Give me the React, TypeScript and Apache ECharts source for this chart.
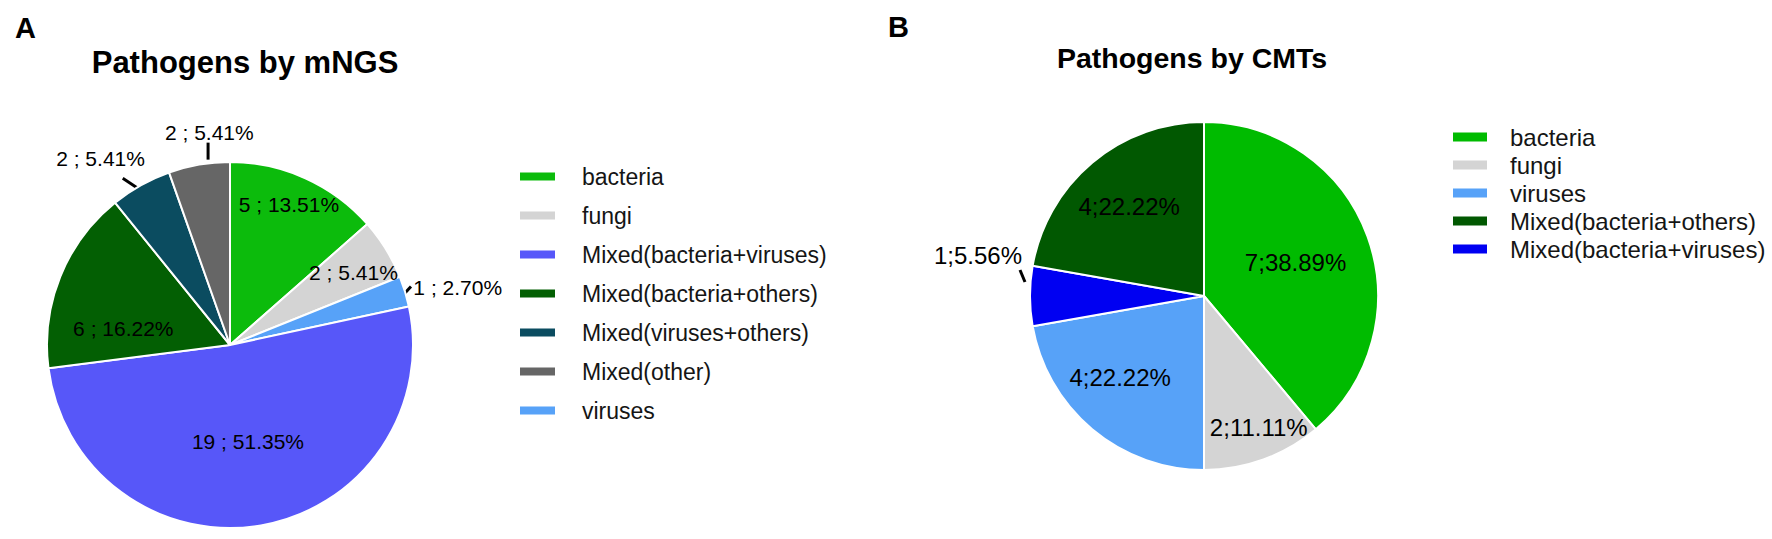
import { useEffect, useRef } from "react";
import * as echarts from "echarts";

// ---------------- data ----------------
const mngsCategories = [
  "bacteria",
  "fungi",
  "viruses",
  "Mixed(bacteria+viruses)",
  "Mixed(bacteria+others)",
  "Mixed(viruses+others)",
  "Mixed(other)",
];
const mngsCounts = [5, 2, 1, 19, 6, 2, 2];
const mngsLegendOrder = [
  "bacteria",
  "fungi",
  "Mixed(bacteria+viruses)",
  "Mixed(bacteria+others)",
  "Mixed(viruses+others)",
  "Mixed(other)",
  "viruses",
];
const mngsOutsideLabels = ["viruses", "Mixed(viruses+others)", "Mixed(other)"];

const cmtCategories = [
  "bacteria",
  "fungi",
  "viruses",
  "Mixed(bacteria+viruses)",
  "Mixed(bacteria+others)",
];
const cmtCounts = [7, 2, 4, 1, 4];
const cmtLegendOrder = [
  "bacteria",
  "fungi",
  "viruses",
  "Mixed(bacteria+others)",
  "Mixed(bacteria+viruses)",
];
const cmtOutsideLabels = ["Mixed(bacteria+viruses)"];

const chartTitles = ["Pathogens by mNGS", "Pathogens by CMTs"];
const panelLetters = ["A", "B"];

// ---------------- styles ----------------
const FONT = "'Liberation Sans', Arial, Helvetica, sans-serif";

const mngsColors: Record<string, string> = {
  bacteria: "#0cbb0c",
  fungi: "#d4d4d4",
  viruses: "#57a2f8",
  "Mixed(bacteria+viruses)": "#5757f9",
  "Mixed(bacteria+others)": "#035f03",
  "Mixed(viruses+others)": "#0b4c60",
  "Mixed(other)": "#666666",
};
const cmtColors: Record<string, string> = {
  bacteria: "#00bb00",
  fungi: "#d4d4d4",
  viruses: "#57a2f8",
  "Mixed(bacteria+viruses)": "#0000f2",
  "Mixed(bacteria+others)": "#015801",
};

// label nudges (px) relative to the library's default label placement
const mngsLabelShift: Record<string, [number, number]> = {
  bacteria: [20, -54],
  fungi: [43, -23],
  viruses: [-10, 0],
  "Mixed(bacteria+viruses)": [2, 3],
  "Mixed(bacteria+others)": [-19, 19],
  "Mixed(viruses+others)": [16, -15],
  "Mixed(other)": [62, -18],
};
const cmtLabelShift: Record<string, [number, number]> = {
  bacteria: [7, -3],
  fungi: [24, 47],
  viruses: [-26, 13],
  "Mixed(bacteria+viruses)": [15, -41],
  "Mixed(bacteria+others)": [-17, -21],
};

// short leader ticks, as offsets from the slice-edge anchor the library computes
const mngsTicks: Record<string, [[number, number], [number, number]]> = {
  viruses: [[-6, 8], [6, -5]],
  "Mixed(viruses+others)": [[-3, 3], [-18, -7]],
  "Mixed(other)": [[9, -5], [9, -22]],
};
const cmtTicks: Record<string, [[number, number], [number, number]]> = {
  "Mixed(bacteria+viruses)": [[-5, -14], [-10, -26]],
};

function buildPie(
  cats: string[],
  counts: number[],
  colors: Record<string, string>,
  outside: string[],
  shifts: Record<string, [number, number]>,
  ticks: Record<string, [[number, number], [number, number]]>,
  center: [number, number],
  radius: number,
  fontSize: number,
  sep: string,
  lineLen: number
) {
  const total = counts.reduce((a, b) => a + b, 0);
  return {
    type: "pie",
    center,
    radius,
    startAngle: 90,
    clockwise: true,
    avoidLabelOverlap: false,
    emphasis: { disabled: true },
    itemStyle: { borderColor: "#ffffff", borderWidth: 2 },
    label: {
      show: true,
      position: "inside",
      color: "#000",
      fontSize,
      fontFamily: FONT,
      formatter: (p: any) =>
        `${p.value}${sep}${((p.value / total) * 100).toFixed(2)}%`,
    },
    labelLine: { show: false },
    data: cats.map((name, i) => {
      const isOut = outside.includes(name);
      return {
        name,
        value: counts[i],
        itemStyle: { color: colors[name] },
        label: isOut ? { position: "outside" } : { position: "inside" },
        labelLine: isOut
          ? {
              show: true,
              length: lineLen,
              length2: 0,
              lineStyle: { color: "#000", width: 3 },
            }
          : { show: false },
      };
    }),
    labelLayout: (params: any) => {
      const name = cats[params.dataIndex];
      const s = shifts[name] || [0, 0];
      const out: any = { dx: s[0], dy: s[1] };
      const pts = params.labelLinePoints;
      if (outside.includes(name) && pts && pts.length) {
        const t = ticks[name];
        const p0 = pts[0];
        if (t) {
          out.labelLinePoints = [
            [p0[0] + t[0][0], p0[1] + t[0][1]],
            [p0[0] + t[1][0], p0[1] + t[1][1]],
          ];
        } else {
          out.labelLinePoints = pts;
        }
      }
      return out;
    },
  };
}

function buildLegend(
  order: string[],
  colors: Record<string, string>,
  left: number,
  top: number,
  itemWidth: number,
  itemHeight: number,
  fontSize: number,
  itemGap: number,
  textPad: number
) {
  return {
    orient: "vertical",
    left,
    top,
    padding: 0,
    icon: "rect",
    itemWidth,
    itemHeight,
    itemGap,
    selectedMode: false,
    textStyle: {
      fontSize,
      lineHeight: fontSize,
      color: "#151515",
      fontFamily: FONT,
      padding: [0, 0, 0, textPad],
    },
    data: order.map((name) => ({
      name,
      itemStyle: { color: colors[name], borderWidth: 0 },
    })),
  };
}

export default function App() {
  const ref = useRef<HTMLDivElement>(null);

  useEffect(() => {
    if (!ref.current) return;
    const chart = echarts.init(ref.current, undefined, { renderer: "svg" });
    const option: any = {
      animation: false,
      backgroundColor: "#ffffff",
      graphic: [
        {
          type: "text",
          x: 15,
          y: 13,
          style: {
            text: panelLetters[0],
            fontSize: 29,
            fontWeight: "bold",
            fontFamily: FONT,
            fill: "#000",
            align: "left",
            verticalAlign: "top",
          },
        },
        {
          type: "text",
          x: 888,
          y: 12,
          style: {
            text: panelLetters[1],
            fontSize: 29,
            fontWeight: "bold",
            fontFamily: FONT,
            fill: "#000",
            align: "left",
            verticalAlign: "top",
          },
        },
        {
          type: "text",
          x: 245,
          y: 47,
          style: {
            text: chartTitles[0],
            fontSize: 31,
            fontWeight: "bold",
            fontFamily: FONT,
            fill: "#000",
            align: "center",
            verticalAlign: "top",
          },
        },
        {
          type: "text",
          x: 1192,
          y: 43,
          style: {
            text: chartTitles[1],
            fontSize: 28.5,
            fontWeight: "bold",
            fontFamily: FONT,
            fill: "#000",
            align: "center",
            verticalAlign: "top",
          },
        },
      ],
      legend: [
        buildLegend(mngsLegendOrder, mngsColors, 520, 165, 35, 8, 23, 16, 22),
        buildLegend(cmtLegendOrder, cmtColors, 1453, 125, 34, 9, 24, 4, 18),
      ],
      series: [
        buildPie(
          mngsCategories,
          mngsCounts,
          mngsColors,
          mngsOutsideLabels,
          mngsLabelShift,
          mngsTicks,
          [230, 345],
          183,
          21,
          " ; ",
          14
        ),
        buildPie(
          cmtCategories,
          cmtCounts,
          cmtColors,
          cmtOutsideLabels,
          cmtLabelShift,
          cmtTicks,
          [1204, 296],
          174,
          24,
          ";",
          18
        ),
      ],
    };
    chart.setOption(option);
    return () => chart.dispose();
  }, []);

  return (
    <div
      ref={ref}
      style={{
        position: "fixed",
        left: 0,
        top: 0,
        width: 1772,
        height: 539,
        background: "#fff",
      }}
    />
  );
}
